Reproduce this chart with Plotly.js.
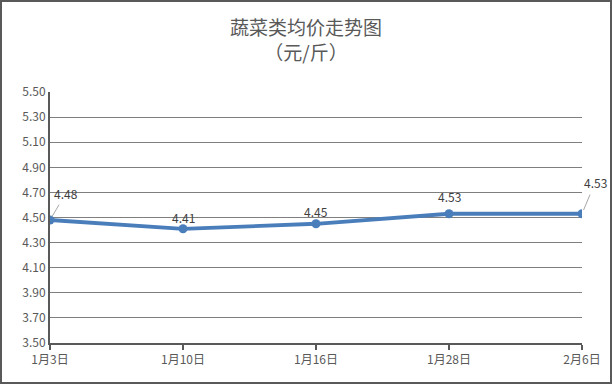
<!DOCTYPE html>
<html>
<head>
<meta charset="utf-8">
<script src="https://cdn.plot.ly/plotly-3.0.1.min.js"></script>
<style>
html,body{margin:0;padding:0;background:#fff;}
#chart{width:608px;height:380px;border:2px solid #595959;}
</style>
</head>
<body>
<div id="chart"></div>
<script>
const categories = ["1月3日", "1月10日", "1月16日", "1月28日", "2月6日"];
const prices = [4.48, 4.41, 4.45, 4.53, 4.53];
const yTicks = [3.5, 3.7, 3.9, 4.1, 4.3, 4.5, 4.7, 4.9, 5.1, 5.3, 5.5];
const labelOffsets = [[16, -27, true], [0, 1, false], [0, 2, false], [0, 7, false], [13, -31, true]];

const font = "'Noto Sans CJK SC', 'Noto Sans', sans-serif";

const trace = {
  x: categories,
  y: prices,
  type: "scatter",
  mode: "lines+markers",
  line: {color: "#4A7EBB", width: 3.8},
  marker: {color: "#4A7EBB", size: 9},
  hoverinfo: "skip"
};

const annotations = categories.map((c, i) => {
  const o = labelOffsets[i];
  const a = {
    x: c, y: prices[i], xref: "x", yref: "y",
    text: prices[i].toFixed(2),
    font: {family: font, size: 12, color: "#404040"}
  };
  if (o[2]) {
    Object.assign(a, {showarrow: true, ax: o[0], ay: o[1], arrowhead: 0, arrowwidth: 1,
      arrowcolor: "#A6A6A6", standoff: 4, startstandoff: 2});
  } else {
    Object.assign(a, {showarrow: false, yshift: o[1], yanchor: "bottom"});
  }
  return a;
});

const layout = {
  width: 608, height: 380,
  margin: {l: 48, r: 28, t: 90, b: 39, pad: 0},
  paper_bgcolor: "#fff", plot_bgcolor: "#fff",
  showlegend: false,
  title: {
    text: "蔬菜类均价走势图<br>（元/斤）",
    font: {family: font, size: 19, color: "#595959"},
    x: 0.5, xanchor: "center", y: 0.913, yanchor: "top"
  },
  xaxis: {
    type: "category",
    range: [0, categories.length - 1],
    showgrid: false,
    showline: true, linecolor: "#595959", linewidth: 2,
    ticks: "outside", ticklen: 5, tickcolor: "#595959", tickwidth: 2,
    tickfont: {family: font, size: 12, color: "#595959"},
    zeroline: false,
    fixedrange: true
  },
  yaxis: {
    range: [3.5, 5.5],
    tickvals: yTicks,
    ticktext: yTicks.map(v => v.toFixed(2)),
    showgrid: true, gridcolor: "#7F7F7F", gridwidth: 1,
    showline: true, linecolor: "#595959", linewidth: 2,
    ticks: "", ticklen: 0,
    tickfont: {family: font, size: 12, color: "#595959"},
    zeroline: false,
    fixedrange: true
  },
  annotations: annotations
};

Plotly.newPlot("chart", [trace], layout, {displayModeBar: false, staticPlot: true});
</script>
</body>
</html>
